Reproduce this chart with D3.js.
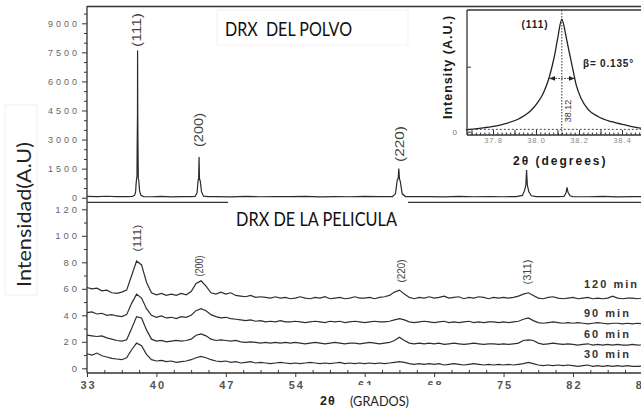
<!DOCTYPE html>
<html>
<head>
<meta charset="utf-8">
<script src="https://cdn.jsdelivr.net/npm/d3@7"></script>
<style>
  body { margin: 0; background: #fff; }
  svg { display: block; }
</style>
</head>
<body>
<svg></svg>
<script>
// ---- powder pattern (top panel): 2theta / counts
const powderAngle = [33, 34, 35, 36, 37, 37.6, 37.8, 37.9, 37.95, 38.0, 38.04, 38.06, 38.09, 38.1, 38.12, 38.14, 38.17, 38.22, 38.3, 38.45, 38.7,
    39.5, 40.5, 41.5, 42.5, 43.5, 43.9, 44.1, 44.2, 44.26, 44.3, 44.34, 44.42, 44.55, 44.75, 45.2,
    46, 47.5, 49, 50.5, 52, 53.5, 55, 56.5, 58, 59.5, 61, 62.5, 63.8, 64.1, 64.28, 64.38, 64.44, 64.5, 64.6, 64.78, 65.1,
    66, 67.5, 69, 70.5, 72, 73.5, 75, 76.3, 76.9, 77.1, 77.25, 77.32, 77.4, 77.55, 77.8, 78.3,
    79.5, 80.5, 81.1, 81.3, 81.4, 81.5, 81.7, 82, 83.5, 85, 86.5, 88, 89]
const powderCounts = [70, 60, 75, 55, 60, 70, 130, 300, 700, 1000, 1100, 2800, 4200, 7600, 4200, 2800, 1000, 900, 350, 120, 60,
    50, 70, 45, 60, 55, 70, 250, 900, 1000, 2100, 1000, 850, 300, 80, 55,
    60, 45, 70, 50, 60, 55, 65, 45, 60, 50, 70, 55, 60, 200, 900, 1000, 1510, 1000, 800, 200, 60,
    55, 60, 45, 65, 50, 60, 50, 60, 120, 350, 650, 1430, 650, 300, 100, 55,
    60, 55, 70, 250, 530, 280, 100, 60, 50, 65, 45, 60, 55]
const powderHkl = ['(111)', '(200)', '(220)']
const powderHklAngle = [38.09, 44.29, 64.56]

// ---- film patterns (bottom panel), sampled every 0.5 deg from 33 to 89
const filmAngle = d3.range(33, 89.01, 0.5)
const film120 = [
    61, 60, 60.5, 58.5, 59, 57, 56.5, 57.5, 59, 70, 81, 78, 65, 57,
    55.5, 56.5, 55, 56, 55, 56.5, 55.5, 58, 64, 66, 62, 57, 56, 57.5,
    56, 57, 55, 54.5, 54, 55, 53.5, 54, 53.5, 53, 54, 53, 53.5, 52.5,
    53, 54, 53, 52.5, 53.5, 53, 54, 52.5, 53, 53.5, 52.5, 53, 54, 53,
    53, 53.5, 52.5, 53.5, 54, 55, 57.5, 59, 56, 53.5, 52.5, 53.5, 53, 54,
    53, 53.5, 54.5, 53, 53.5, 54, 52.5, 53.5, 53, 54, 53.5, 52.5, 53.5, 53,
    53.5, 53, 53.5, 54.5, 56, 57, 55, 53, 52.5, 53.5, 54, 53, 52.5, 53,
    53.5, 52.5, 53, 53.5, 52.5, 53, 52.5, 53, 54.5, 53, 52.5, 53, 53, 52.5,
    53]
const film90 = [
    42, 42.5, 41, 41.5, 40, 40.5, 39.5, 39, 40.5, 49, 56, 53, 45, 40,
    38.5, 39.5, 38, 38.5, 37.5, 39, 38.5, 40, 43.5, 45, 43.5, 40.5, 39, 38,
    38.5, 37.5, 37, 36.5, 36, 36.5, 35.5, 36, 35, 35.5, 35, 36, 35, 35,
    35.5, 35, 34.5, 35, 35.5, 35, 34.5, 35.5, 35, 35.5, 34.5, 35, 35.5, 35,
    34.5, 35, 35.5, 35, 35, 35.5, 36.5, 37.5, 36.5, 35, 34.5, 35, 35.5, 35,
    34.5, 35, 35.5, 34.5, 35, 34.5, 35, 35.5, 34.5, 35, 34.5, 35, 35, 34.5,
    35, 34.5, 35, 35.5, 37, 38, 36, 34.5, 34, 34.5, 35, 34.5, 34, 34.5,
    34, 34.5, 34, 33.5, 34, 34.5, 34, 33.5, 34, 34, 33.5, 34, 33.5, 34,
    33.7]
const film60 = [
    25, 24.5, 24, 24.5, 23, 22, 21, 20.5, 21.5, 30, 39, 38, 29, 22,
    20.5, 21, 20, 20.5, 21, 20.5, 21, 22, 25, 26, 24.5, 22, 21, 21.5,
    21, 20.5, 21, 20, 19.5, 20, 19.5, 19, 19.5, 19, 19.5, 19, 19.5, 19,
    19.5, 19, 18.5, 19, 19.5, 19, 18.5, 19, 19.5, 19, 18.5, 19, 19, 18.5,
    19, 19.5, 19, 18.5, 19, 19.5, 21, 23.5, 21, 19, 18.5, 19, 18.5, 19,
    18.5, 19, 18, 18.5, 19, 18.5, 18, 18.5, 19, 18.5, 18, 18.5, 18.5, 18,
    18.5, 18, 18.5, 19, 21, 21.5, 21, 19, 18, 18.5, 19, 18.5, 18, 18.5,
    18, 17.5, 18, 18.5, 17.5, 18, 17.5, 18, 17.5, 18, 17.5, 17.5, 18, 17.5,
    17.6]
const film30 = [
    11, 10, 11.5, 9.5, 8.5, 7.5, 7, 6.5, 8, 14, 19, 17, 10.5, 6.5,
    5.5, 6, 5, 5.5, 4.5, 5, 5.5, 6.5, 8, 9, 8, 6.5, 5.5, 5,
    5.5, 4.5, 5, 4, 4.5, 5, 4, 4.5, 4, 3.5, 4, 4.5, 4, 3.5,
    4, 3.5, 4, 4.5, 4, 3.5, 4, 3.5, 4, 4.5, 3.5, 4, 3.5, 4,
    3.5, 4, 3.5, 4, 3.5, 4, 4.5, 5, 4.5, 3.5, 3, 3.5, 3, 3.5,
    3, 3.5, 2.5, 3, 3.5, 3, 2.5, 3, 3.5, 3, 2.5, 3, 2.5, 3,
    2.5, 3, 2.5, 3, 3.5, 4.5, 3.5, 2.5, 2, 2.5, 2, 2.5, 2, 2.5,
    2, 1.5, 2, 2.5, 1.5, 2, 1.5, 2, 1.5, 2, 1.5, 2, 1.5, 1.5,
    1.6]
const filmTimes = ['120 min', '90 min', '60 min', '30 min']
const filmHkl = ['(111)', '(200)', '(220)', '(311)']
const filmHklAngle = [38.1, 44.35, 64.7, 77.4]

// ---- inset: (111) powder peak
const insetAngle = [37.674, 37.704, 37.78, 37.843, 37.921, 37.96, 37.983, 38.01, 38.029, 38.045, 38.058, 38.073, 38.088, 38.102, 38.12,
    38.14, 38.156, 38.172, 38.187, 38.21, 38.243, 38.29, 38.352, 38.414, 38.484, 38.52]
const insetIntensity = [0.015, 0.02, 0.035, 0.055, 0.1, 0.14, 0.175, 0.23, 0.28, 0.34, 0.4, 0.49, 0.6, 0.73, 0.865,
    0.73, 0.6, 0.475, 0.36, 0.255, 0.17, 0.115, 0.077, 0.052, 0.028, 0.02]
const insetPeak = 38.12
const insetFwhm = [38.062, 38.18]

// ---- ticks
const topTicks = [0, 1500, 3000, 4500, 6000, 7500, 9000]
const bottomTicks = [0, 20, 40, 60, 80, 100, 120]
const xTicks = [33, 40, 47, 54, 61, 68, 75, 82, 89]
const insetTicks = [37.8, 38.0, 38.2, 38.4]

// Canvas setup
const width = 641
const height = 410
const svg = d3.select('svg').attr('width', width).attr('height', height)
const ink = '#333'
const sansFont = '"Liberation Sans", Arial, sans-serif'

const x = d3.scaleLinear().domain([33, 89]).range([87, 642.4])
const yTop = d3.scaleLinear().domain([0, 9000]).range([197.7, 23.3])
const yBot = d3.scaleLinear().domain([0, 120]).range([368.3, 209.3])

// frame lines
function hline(y, x1, x2, w) {
    svg.append('line').attr('x1', x1).attr('x2', x2).attr('y1', y).attr('y2', y)
        .attr('stroke', ink).attr('stroke-width', w || 1.2)
}
svg.append('line').attr('x1', 87).attr('x2', 87).attr('y1', 6).attr('y2', 373)
    .attr('stroke', ink).attr('stroke-width', 1.3)
hline(6.5, 87, 641, 1.6)
hline(202.3, 87, 641, 1.3)
hline(373, 87, 641, 1.3)

// axis helper
function styleAxis(g, size, color, spacing, weight) {
    g.select('.domain').remove()
    g.selectAll('line').attr('stroke', ink)
    g.attr('font-family', sansFont).attr('font-size', size)
    g.selectAll('text').attr('fill', color).attr('letter-spacing', spacing)
        .attr('font-weight', weight || 'normal')
}

// top panel y axis
let gTop = svg.append('g').attr('transform', 'translate(87,0)')
    .call(d3.axisLeft(yTop).tickValues(topTicks).tickSize(5).tickPadding(2).tickFormat(d3.format('d')))
styleAxis(gTop, 9, '#666', 3)
let gTopMinor = svg.append('g').attr('transform', 'translate(87,0)')
    .call(d3.axisLeft(yTop).tickValues(d3.range(500, 9600, 500).filter(v => v % 1500)).tickSize(3).tickFormat(''))
styleAxis(gTopMinor, 9, '#666', 0)

// bottom panel y axis
let gBot = svg.append('g').attr('transform', 'translate(87,0)')
    .call(d3.axisLeft(yBot).tickValues(bottomTicks).tickSize(5).tickPadding(2))
styleAxis(gBot, 9.5, '#666', 3)
let gBotMinor = svg.append('g').attr('transform', 'translate(87,0)')
    .call(d3.axisLeft(yBot).tickValues([10, 30, 50, 70, 90, 110]).tickSize(3).tickFormat(''))
styleAxis(gBotMinor, 9, '#666', 0)

// x axis
let gX = svg.append('g').attr('transform', 'translate(0,373)')
    .call(d3.axisBottom(x).tickValues(xTicks).tickSize(4).tickPadding(4))
styleAxis(gX, 11, '#555', 2, 'bold')
gX.selectAll('text').attr('dx', 1)
let gXMinor = svg.append('g').attr('transform', 'translate(0,373)')
    .call(d3.axisBottom(x).tickValues(d3.range(33, 89, 1.75).filter(v => (v - 33) % 7)).tickSize(-3).tickFormat(''))
styleAxis(gXMinor, 9, '#555', 0)

// powder pattern
const powderLine = d3.line().x(d => x(d[0])).y(d => yTop(d[1]))
svg.append('path')
    .datum(powderAngle.map((a, i) => [a, powderCounts[i]]))
    .attr('d', powderLine)
    .attr('fill', 'none').attr('stroke', '#2a2a2a').attr('stroke-width', 1.2)

// film patterns
const filmLine = d3.line().x(d => x(d[0])).y(d => yBot(d[1]))
const filmSeries = [film120, film90, film60, film30]
filmSeries.forEach(vals => {
    svg.append('path')
        .datum(filmAngle.map((a, i) => [a, vals[i]]))
        .attr('d', filmLine)
        .attr('fill', 'none').attr('stroke', '#2e2e2e').attr('stroke-width', 1.2)
})

// time labels, a bit above the right end of each curve
const timeOffset = [10, 7, 6.5, 8]
filmTimes.forEach((t, i) => {
    let last = filmSeries[i][filmSeries[i].length - 1]
    svg.append('text').text(t)
        .attr('x', 584).attr('y', yBot(last) - timeOffset[i])
        .attr('font-family', sansFont).attr('font-size', 11).attr('font-weight', 'bold')
        .attr('letter-spacing', 2).attr('fill', '#333')
})

// rotated hkl labels
function hklLabel(txt, cx, cy, size, len) {
    svg.append('text').text(txt)
        .attr('transform', 'translate(' + cx + ',' + cy + ') rotate(-90)')
        .attr('text-anchor', 'middle').attr('dominant-baseline', 'central')
        .attr('font-family', '"Liberation Sans Narrow", "Liberation Sans", Arial, sans-serif')
        .attr('font-size', size).attr('fill', '#444')
        .attr('textLength', len).attr('lengthAdjust', 'spacingAndGlyphs')
}
const powderLabelY = [30, 130, 144]
const powderLabelLen = [34, 34, 36]
powderHkl.forEach((h, i) => hklLabel(h, x(powderHklAngle[i]), powderLabelY[i], 12.5, powderLabelLen[i]))
const filmLabelY = [238, 266, 271, 272]
const filmLabelLen = [27, 21, 23, 25]
filmHkl.forEach((h, i) => hklLabel(h, x(filmHklAngle[i]), filmLabelY[i], 10, filmLabelLen[i]))

// titles with white boxes
svg.append('rect').attr('x', 217).attr('y', 10).attr('width', 191).attr('height', 35)
    .attr('fill', '#fff').attr('stroke', '#f2f2f2')
svg.append('text').text('DRX  DEL POLVO').style('white-space', 'pre')
    .attr('x', 225).attr('y', 36)
    .attr('font-family', 'Lato, sans-serif').attr('font-size', 19).attr('fill', '#111')
    .attr('textLength', 127).attr('lengthAdjust', 'spacingAndGlyphs')

svg.append('rect').attr('x', 228).attr('y', 198).attr('width', 180).attr('height', 38)
    .attr('fill', '#fff')
svg.append('text').text('DRX DE LA PELICULA')
    .attr('x', 236).attr('y', 226)
    .attr('font-family', 'Lato, sans-serif').attr('font-size', 18.5).attr('fill', '#111')
    .attr('textLength', 161).attr('lengthAdjust', 'spacingAndGlyphs')

// y axis title
svg.append('rect').attr('x', 5).attr('y', 105).attr('width', 32).attr('height', 190)
    .attr('fill', '#fff').attr('stroke', '#f0f0f0')
svg.append('text').text('Intensidad(A.U)')
    .attr('transform', 'translate(31,287) rotate(-90)')
    .attr('font-family', 'Lato, sans-serif').attr('font-size', 19.5).attr('fill', '#222')
    .attr('textLength', 145).attr('lengthAdjust', 'spacingAndGlyphs')

// x axis title
svg.append('rect').attr('x', 342).attr('y', 385).attr('width', 103).attr('height', 25)
    .attr('fill', '#fff')
svg.append('text').text('2θ')
    .attr('x', 320).attr('y', 405)
    .attr('font-family', sansFont).attr('font-size', 12.5).attr('font-weight', 'bold')
    .attr('letter-spacing', 1).attr('fill', '#222')
svg.append('text').text('(GRADOS)')
    .attr('x', 350).attr('y', 406)
    .attr('font-family', 'Lato, sans-serif').attr('font-size', 13.5).attr('fill', '#222')
    .attr('textLength', 59).attr('lengthAdjust', 'spacingAndGlyphs')

// ---- inset
const xIn = d3.scaleLinear().domain([37.8, 38.4]).range([493, 622])
const yIn = d3.scaleLinear().domain([0, 0.5]).range([131.7, 66.7])
const inL = 467, inT = 10, inB = 135

svg.append('rect').attr('x', 438).attr('y', 8.5).attr('width', 203).attr('height', 159)
    .attr('fill', '#fff')

// dotted guides
svg.append('line').attr('x1', xIn(insetPeak)).attr('x2', xIn(insetPeak)).attr('y1', inT).attr('y2', inB)
    .attr('stroke', '#333').attr('stroke-width', 1).attr('stroke-dasharray', '1.5,1.5')
svg.append('line').attr('x1', xIn(37.72)).attr('x2', 641).attr('y1', yIn(0.018)).attr('y2', yIn(0.018))
    .attr('stroke', '#444').attr('stroke-width', 1).attr('stroke-dasharray', '2,2')

let defs = svg.append('defs')
defs.append('marker').attr('id', 'arr').attr('viewBox', '0 0 6 6')
    .attr('refX', 6).attr('refY', 3).attr('markerWidth', 6).attr('markerHeight', 6)
    .attr('orient', 'auto-start-reverse').attr('markerUnits', 'userSpaceOnUse')
    .append('path').attr('d', 'M0,0.5L6,3L0,5.5Z').attr('fill', '#222')
svg.append('line').attr('x1', xIn(insetFwhm[0])).attr('x2', xIn(insetFwhm[1]))
    .attr('y1', yIn(0.41)).attr('y2', yIn(0.41))
    .attr('stroke', '#222').attr('stroke-width', 1).attr('stroke-dasharray', '1.5,1.5')
    .attr('marker-start', 'url(#arr)').attr('marker-end', 'url(#arr)')

svg.append('path')
    .datum(insetAngle.map((a, i) => [a, insetIntensity[i]]))
    .attr('d', d3.line().x(d => xIn(d[0])).y(d => yIn(d[1])).curve(d3.curveMonotoneX))
    .attr('fill', 'none').attr('stroke', '#222').attr('stroke-width', 1.3)

// inset frame
svg.append('line').attr('x1', inL).attr('x2', inL).attr('y1', inT).attr('y2', inB)
    .attr('stroke', ink).attr('stroke-width', 1.3)
hline(inT, inL, 641, 1.3)
hline(inB, inL, 641, 1.3)

// inset ticks
let gInMinor = svg.append('g').attr('transform', 'translate(0,' + inB + ')')
    .call(d3.axisBottom(xIn).tickValues(d3.range(37.68, 38.52, 0.02)).tickSize(-2.5).tickFormat(''))
styleAxis(gInMinor, 7, '#888', 0)
let gIn = svg.append('g').attr('transform', 'translate(0,' + inB + ')')
    .call(d3.axisBottom(xIn).tickValues([37.7, 37.8, 37.9, 38.0, 38.1, 38.2, 38.3, 38.4, 38.5]).tickSize(-5).tickFormat(''))
styleAxis(gIn, 7, '#888', 0)
let gInLab = svg.append('g').attr('transform', 'translate(0,' + inB + ')')
    .call(d3.axisBottom(xIn).tickValues(insetTicks).tickSize(0).tickPadding(3).tickFormat(d3.format('.1f')))
styleAxis(gInLab, 7.5, '#888', 1)
let gInY = svg.append('g').attr('transform', 'translate(' + inL + ',0)')
    .call(d3.axisLeft(yIn).tickValues([0, 0.5]).tickSize(-4).tickPadding(10).tickFormat(d => d === 0 ? '0' : ''))
styleAxis(gInY, 8, '#777', 0)

// inset texts
svg.append('text').text('(111)')
    .attr('x', 535).attr('y', 28).attr('text-anchor', 'middle')
    .attr('font-family', sansFont).attr('font-size', 10).attr('font-weight', 'bold')
    .attr('letter-spacing', 1).attr('fill', '#222')
svg.append('text').text('β= 0.135°')
    .attr('x', 583).attr('y', 67)
    .attr('font-family', sansFont).attr('font-size', 10).attr('font-weight', 'bold')
    .attr('letter-spacing', 0.8).attr('fill', '#222')
svg.append('text').text('38.12')
    .attr('transform', 'translate(' + (xIn(insetPeak) + 9) + ',111) rotate(-90)')
    .attr('text-anchor', 'middle')
    .attr('font-family', sansFont).attr('font-size', 9).attr('fill', '#333')
svg.append('text').text('Intensity (A.U.)')
    .attr('transform', 'translate(452,67) rotate(-90)')
    .attr('text-anchor', 'middle')
    .attr('font-family', sansFont).attr('font-size', 12.5).attr('font-weight', 'bold')
    .attr('letter-spacing', 1).attr('fill', '#1a1a1a')
svg.append('text').text('2θ (degrees)')
    .attr('x', 513).attr('y', 165)
    .attr('font-family', sansFont).attr('font-size', 12).attr('font-weight', 'bold')
    .attr('letter-spacing', 2).attr('fill', '#1a1a1a')
</script>
</body>
</html>
